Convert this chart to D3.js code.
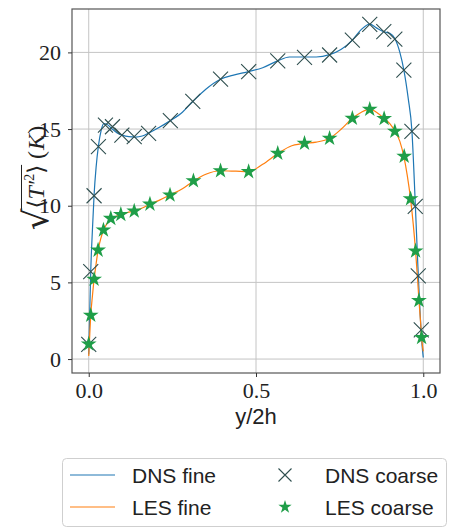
<!DOCTYPE html>
<html>
<head>
<meta charset="utf-8">
<script src="https://cdn.jsdelivr.net/npm/d3@7"></script>
<style>
  body { margin: 0; background: #fff; }
  svg { display: block; }
</style>
</head>
<body>
<div id="vis"></div>
<script>
// fine profiles
var dnsFineX = [0.0, 0.003, 0.006, 0.011, 0.016, 0.022, 0.029, 0.037, 0.045, 0.055, 0.07, 0.085, 0.1, 0.12, 0.14, 0.16, 0.18, 0.21, 0.244, 0.28, 0.311, 0.35, 0.394, 0.43, 0.478, 0.52, 0.565, 0.6, 0.645, 0.68, 0.72, 0.755, 0.788, 0.815, 0.84, 0.86, 0.882, 0.9, 0.915, 0.93, 0.942, 0.955, 0.966, 0.976, 0.984, 0.991, 0.996, 1.0];
var dnsFineY = [0.3, 3.0, 5.7, 8.4, 10.7, 12.5, 13.9, 14.9, 15.35, 15.3, 15.0, 14.75, 14.6, 14.5, 14.48, 14.55, 14.75, 15.1, 15.55, 16.1, 16.8, 17.6, 18.25, 18.5, 18.75, 19.0, 19.45, 19.7, 19.7, 19.7, 19.85, 20.2, 20.8, 21.5, 21.85, 21.6, 21.35, 21.25, 20.9, 20.0, 18.85, 17.0, 14.9, 10.2, 6.0, 2.8, 1.0, 0.1];

var lesFineX = [0.0, 0.002, 0.006, 0.011, 0.016, 0.022, 0.028, 0.036, 0.044, 0.055, 0.066, 0.08, 0.096, 0.115, 0.136, 0.16, 0.183, 0.21, 0.243, 0.28, 0.313, 0.35, 0.394, 0.44, 0.478, 0.52, 0.565, 0.6, 0.645, 0.68, 0.72, 0.755, 0.788, 0.815, 0.84, 0.86, 0.883, 0.9, 0.915, 0.93, 0.942, 0.952, 0.962, 0.97, 0.977, 0.983, 0.987, 0.992, 0.995, 1.0];
var lesFineY = [0.2, 1.1, 2.85, 4.1, 5.2, 6.2, 7.1, 7.85, 8.4, 8.85, 9.15, 9.3, 9.43, 9.55, 9.65, 9.85, 10.1, 10.35, 10.7, 11.1, 11.6, 12.05, 12.28, 12.25, 12.22, 12.7, 13.4, 13.85, 14.07, 14.15, 14.4, 15.0, 15.7, 16.1, 16.3, 16.1, 15.7, 15.35, 14.87, 14.2, 13.2, 12.0, 10.45, 8.8, 7.05, 5.2, 3.85, 2.4, 1.4, 0.5];

// coarse samples
var dnsCoarseX = [0.0, 0.006, 0.016, 0.029, 0.05, 0.071, 0.099, 0.136, 0.179, 0.244, 0.311, 0.394, 0.478, 0.565, 0.645, 0.72, 0.788, 0.84, 0.882, 0.915, 0.942, 0.966, 0.976, 0.985, 0.994];
var dnsCoarseY = [0.95, 5.7, 10.65, 13.85, 15.25, 15.15, 14.6, 14.5, 14.72, 15.55, 16.8, 18.26, 18.74, 19.44, 19.68, 19.83, 20.8, 21.83, 21.35, 20.87, 18.85, 14.85, 9.96, 5.42, 1.9];

var lesCoarseX = [0.0, 0.006, 0.016, 0.028, 0.044, 0.066, 0.096, 0.136, 0.183, 0.243, 0.313, 0.394, 0.478, 0.565, 0.645, 0.72, 0.788, 0.84, 0.883, 0.915, 0.943, 0.962, 0.977, 0.987, 0.995];
var lesCoarseY = [0.98, 2.85, 5.2, 7.1, 8.41, 9.17, 9.43, 9.65, 10.1, 10.7, 11.63, 12.28, 12.22, 13.42, 14.07, 14.4, 15.7, 16.29, 15.68, 14.85, 13.22, 10.45, 7.05, 3.82, 1.4];

var xTicks = [0.0, 0.5, 1.0];
var yTicks = [0, 5, 10, 15, 20];

var legendLabels = ['DNS fine', 'LES fine', 'DNS coarse', 'LES coarse'];

var width = 450, height = 529;
var margin = { left: 72, right: 10, top: 9, bottom: 156 };
var blue = '#1f77b4', orange = '#ff7f0e', xColor = '#2f4f4f', starColor = '#1f9e48';

var svg = d3.select('#vis').append('svg')
  .attr('width', width)
  .attr('height', height);

var x = d3.scaleLinear().domain([-0.05, 1.05]).range([margin.left, width - margin.right]);
var y = d3.scaleLinear().domain([-0.91, 22.83]).range([height - margin.bottom, margin.top]);

var serif = '"Liberation Serif", "DejaVu Serif", serif';
var sans = '"Liberation Sans", Arial, sans-serif';

// grid
svg.append('g').selectAll('line.gx').data(xTicks).enter().append('line')
  .attr('x1', function(d) { return x(d); }).attr('x2', function(d) { return x(d); })
  .attr('y1', y.range()[0]).attr('y2', y.range()[1])
  .attr('stroke', '#c4c4c4').attr('stroke-width', 1);
svg.append('g').selectAll('line.gy').data(yTicks).enter().append('line')
  .attr('y1', function(d) { return y(d); }).attr('y2', function(d) { return y(d); })
  .attr('x1', x.range()[0]).attr('x2', x.range()[1])
  .attr('stroke', '#c4c4c4').attr('stroke-width', 1);

svg.append('clipPath').attr('id', 'clip').append('rect')
  .attr('x', x.range()[0]).attr('y', y.range()[1])
  .attr('width', x.range()[1] - x.range()[0]).attr('height', y.range()[0] - y.range()[1]);

var plot = svg.append('g').attr('clip-path', 'url(#clip)');

function pairs(xs, ys) { return xs.map(function(v, i) { return [v, ys[i]]; }); }

var line = d3.line()
  .x(function(d) { return x(d[0]); })
  .y(function(d) { return y(d[1]); })
  .curve(d3.curveMonotoneX);

plot.append('path').datum(pairs(dnsFineX, dnsFineY))
  .attr('d', line).attr('fill', 'none').attr('stroke', blue).attr('stroke-width', 1.2);
plot.append('path').datum(pairs(lesFineX, lesFineY))
  .attr('d', line).attr('fill', 'none').attr('stroke', orange).attr('stroke-width', 1.2);

// x markers
function drawX(g, cx, cy, r) {
  g.append('path')
    .attr('d', 'M' + (cx - r) + ',' + (cy - r) + 'L' + (cx + r) + ',' + (cy + r) +
               'M' + (cx - r) + ',' + (cy + r) + 'L' + (cx + r) + ',' + (cy - r))
    .attr('stroke', xColor).attr('stroke-width', 1.1).attr('fill', 'none');
}
pairs(dnsCoarseX, dnsCoarseY).forEach(function(d) { drawX(svg, x(d[0]), y(d[1]), 7.5); });

var star = d3.symbol().type(d3.symbolStar).size(78);
svg.append('g').selectAll('path').data(pairs(lesCoarseX, lesCoarseY)).enter().append('path')
  .attr('d', star)
  .attr('transform', function(d) { return 'translate(' + x(d[0]) + ',' + y(d[1]) + ')'; })
  .attr('fill', starColor);

// frame
svg.append('rect')
  .attr('x', x.range()[0]).attr('y', y.range()[1])
  .attr('width', x.range()[1] - x.range()[0]).attr('height', y.range()[0] - y.range()[1])
  .attr('fill', 'none').attr('stroke', '#555').attr('stroke-width', 1.2);

// axes
var xAxis = svg.append('g')
  .attr('transform', 'translate(0,' + y.range()[0] + ')')
  .call(d3.axisBottom(x).tickValues(xTicks).tickFormat(d3.format('.1f')).tickSize(4).tickPadding(5));
var yAxis = svg.append('g')
  .attr('transform', 'translate(' + x.range()[0] + ',0)')
  .call(d3.axisLeft(y).tickValues(yTicks).tickSize(4).tickPadding(7));
[xAxis, yAxis].forEach(function(a) {
  a.select('.domain').remove();
  a.selectAll('line').attr('stroke', '#333');
  a.selectAll('text').attr('font-family', serif).attr('font-size', 22).attr('fill', '#222');
});

svg.append('text')
  .attr('x', x(0.5)).attr('y', 424)
  .attr('text-anchor', 'middle')
  .attr('font-family', sans).attr('font-size', 22).attr('fill', '#222')
  .text('y/2h');

// y label: sqrt(<T'^2>) (K)
var yl = svg.append('g').attr('transform', 'translate(44,178) rotate(-90)');
var parts = [
  { t: '\u221A', fs: 34, dy: 4, style: 'normal', fam: '"DejaVu Serif", serif' },
  { t: '\u27E8', fs: 23, dy: 0, style: 'normal', fam: '"DejaVu Serif", serif' },
  { t: 'T\u2032', fs: 24, dy: 0, style: 'italic', fam: serif },
  { t: '2', fs: 14, dy: -10, style: 'normal', fam: serif },
  { t: '\u27E9', fs: 23, dy: 0, style: 'normal', fam: '"DejaVu Serif", serif' },
  { t: '\u00A0(', fs: 24, dy: 0, style: 'normal', fam: serif },
  { t: 'K', fs: 24, dy: 0, style: 'italic', fam: serif },
  { t: ')', fs: 24, dy: 0, style: 'normal', fam: serif }
];
var cursor = 0, overStart = 0, overEnd = 0;
parts.forEach(function(p, i) {
  var t = yl.append('text')
    .attr('x', cursor).attr('y', p.dy)
    .attr('font-family', p.fam).attr('font-size', p.fs)
    .attr('font-style', p.style).attr('fill', '#222')
    .text(p.t);
  var w = t.node().getComputedTextLength();
  if (i === 1) overStart = cursor - 1;
  cursor += w + (i === 5 ? 1 : 0);
  if (i === 4) overEnd = cursor;
});
yl.append('line')
  .attr('x1', overStart).attr('x2', overEnd)
  .attr('y1', -22.5).attr('y2', -22.5)
  .attr('stroke', '#222').attr('stroke-width', 1);
yl.selectAll('*').attr('transform', 'translate(' + (-cursor / 2) + ',0)');

// legend
var lg = svg.append('g');
lg.append('rect')
  .attr('x', 62.5).attr('y', 458.5).attr('width', 384).attr('height', 68).attr('rx', 4)
  .attr('fill', '#fff').attr('stroke', '#cfcfcf').attr('stroke-width', 1);
var rowY = [475, 507];
[[70, 115, blue], [70, 115, orange]].forEach(function(l, i) {
  lg.append('line').attr('x1', l[0]).attr('x2', l[1]).attr('y1', rowY[i]).attr('y2', rowY[i])
    .attr('stroke', l[2]).attr('stroke-width', 1.2);
});
drawX(lg, 285, rowY[0], 6.5);
lg.append('path').attr('d', d3.symbol().type(d3.symbolStar).size(55)())
  .attr('transform', 'translate(285,' + rowY[1] + ')').attr('fill', starColor);
var lx = [132, 132, 325, 325];
legendLabels.forEach(function(s, i) {
  lg.append('text')
    .attr('x', lx[i]).attr('y', rowY[i % 2] + 7.5)
    .attr('font-family', sans).attr('font-size', 21).attr('fill', '#222')
    .text(s);
});
</script>
</body>
</html>
